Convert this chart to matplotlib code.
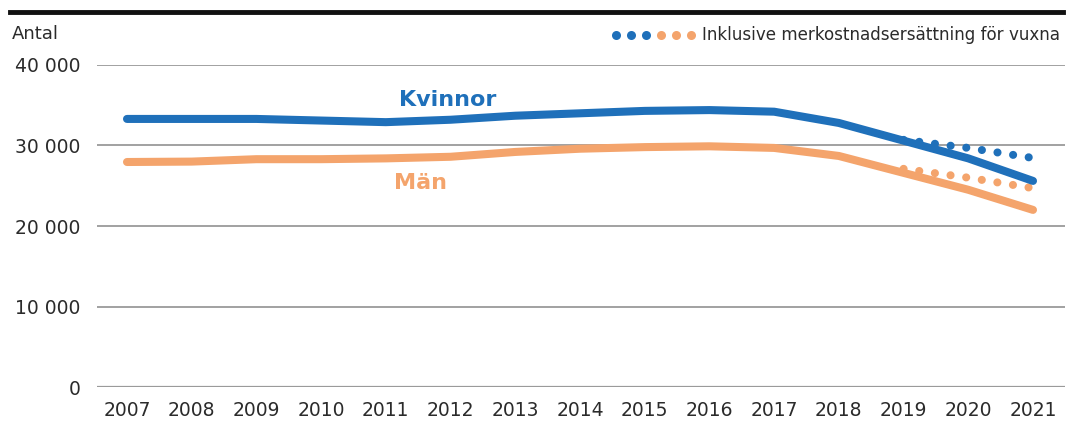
import matplotlib
matplotlib.use('Agg')
import matplotlib.pyplot as plt
from matplotlib.lines import Line2D

plt.rcParams['font.family'] = ['DejaVu Sans']

years = list(range(2007, 2022))
kvinnor = [33300, 33300, 33300, 33100, 32900, 33200, 33700, 34000, 34300, 34400,
           34200, 32800, 30600, 28400, 25600]
man = [27950, 28000, 28300, 28300, 28400, 28600, 29200, 29600, 29800, 29900,
       29700, 28700, 26600, 24500, 22000]
incl_years = [2019, 2020, 2021]
kvinnor_incl = [30700, 29700, 28450]
man_incl = [27100, 26000, 24700]
yticks = [0, 10000, 20000, 30000, 40000]
ytick_labels = ['0', '10 000', '20 000', '30 000', '40 000']

blue = '#1f70ba'
orange = '#f4a46c'
grid = '#9a9a9a'
text_c = '#2b2b2b'

fig = plt.figure(figsize=(10.71, 4.23), dpi=100)
ax = fig.add_axes([97 / 1071, 1 - 387 / 423, (1065 - 97) / 1071, (387 - 65) / 423])

for v in yticks:
    ax.axhline(v, color=grid, lw=1.3 if v else 1.6, zorder=1)

ax.plot(years, kvinnor, color=blue, lw=5.8, solid_capstyle='round', zorder=3)
ax.plot(years, man, color=orange, lw=5.8, solid_capstyle='round', zorder=3)
ax.plot(incl_years, kvinnor_incl, color=blue, lw=5.8, ls=(0, (0.01, 1.95)),
        dash_capstyle='round', zorder=2)
ax.plot(incl_years, man_incl, color=orange, lw=5.8, ls=(0, (0.01, 1.95)),
        dash_capstyle='round', zorder=2)

ax.text(2011.96, 35650, 'Kvinnor', color=blue, fontsize=16, fontweight='bold',
        ha='center', va='center')
ax.text(2011.54, 25300, 'Män', color=orange, fontsize=16, fontweight='bold',
        ha='center', va='center')

ax.set_xlim(2007 - 30 / 64.71, 2021 + 32 / 64.71)
ax.set_ylim(0, 40000)
ax.set_xticks(years)
ax.set_xticklabels([str(y) for y in years])
ax.set_yticks(yticks)
ax.set_yticklabels(ytick_labels)
ax.tick_params(length=0, labelsize=13.5, colors=text_c)
ax.tick_params(axis='y', pad=12)
ax.tick_params(axis='x', pad=10)
for s in ax.spines.values():
    s.set_visible(False)

# top rule, title and legend
fig.add_artist(Line2D([10 / 1071, 1063 / 1071], [1 - 12 / 423, 1 - 12 / 423],
                      color='#111111', lw=3.5))
fig.text(12 / 1071, 1 - 34 / 423, 'Antal', fontsize=13, color=text_c, va='center')
fig.text(702 / 1071, 1 - 35 / 423, 'Inklusive merkostnadsersättning för vuxna',
         fontsize=12.1, color=text_c, va='center')
dot_x = [616, 631, 646, 661, 676, 691]
dot_c = [blue, blue, blue, orange, orange, orange]
for x, c in zip(dot_x, dot_c):
    fig.add_artist(Line2D([x / 1071], [1 - 35 / 423], marker='o', ms=6.5,
                          color=c, mec='none'))

fig.savefig('out.png', dpi=100)
